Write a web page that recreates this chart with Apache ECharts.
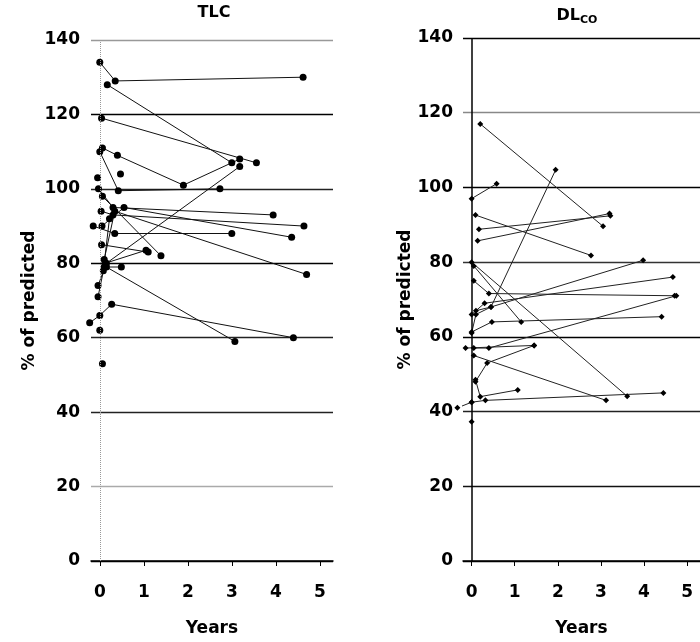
<!DOCTYPE html>
<html>
<head>
<meta charset="utf-8">
<script src="https://cdn.jsdelivr.net/npm/echarts@6/dist/echarts.min.js"></script>
<style>
html,body{margin:0;padding:0;background:#fff}
#chart{width:700px;height:642px}
</style>
</head>
<body>
<div id="chart"></div>
<script>
// TLC, one row per patient: years since baseline / % of predicted
var tlcYears = [
  [0, 0.35, 4.62], [0.17, 3.0], [0.04, 3.56], [0.06, 0.4, 1.9, 3.18],
  [0, 0.42, 2.73], [0.06, 1.39], [0.47], [-0.05],
  [-0.03, 0.3, 3.94], [0.03, 0.3, 4.64], [0.05, 0.55, 4.36], [0.1, 0.34, 4.7],
  [-0.15, 0.34, 3.0], [0.04, 1.1], [0.12, 1.05], [0.15, 3.07],
  [-0.23, 0, 0.27, 4.4], [0], [0.06], [-0.04, 0.15, 3.18],
  [-0.04, 0.1, 0.49], [0.08, 0.22]
];
var tlcPct = [
  [134, 129, 130], [128, 107], [119, 107], [111, 109, 101, 108],
  [110, 99.5, 100], [98, 82], [104], [103],
  [100, 95, 93], [94, 93, 90], [90, 95, 87], [81, 94, 77],
  [90, 88, 88], [85, 83], [80, 83.5], [79, 59],
  [64, 66, 69, 60], [62], [53], [74, 80, 106],
  [71, 79, 79], [78, 92]
];

// DLCO
var dlcoYears = [
  [0.2, 3.05], [0, 0.58], [0.09, 2.77], [0.17, 3.22], [0.14, 3.2],
  [0, 0.1, 0.45, 1.95], [0, 3.61], [0.05, 1.15], [0.05, 0.4, 4.71],
  [0, 0.3, 4.67], [0.1, 0.45, 3.98], [0, 0.47, 4.41], [0.05, 0.4, 4.75],
  [-0.14, 1.45], [0.09, 0.36, 1.45], [0.05, 3.12], [0.09, 0.2, 1.07],
  [0, 0.32, 4.45], [-0.33, 0], [0]
];
var dlcoPct = [
  [117, 89.6], [97, 101], [92.6, 81.8], [88.8, 92.4], [85.7, 93],
  [61, 66, 68, 104.7], [80, 44.1], [79, 64], [75, 71.6, 71],
  [66, 69, 76], [67, 68, 80.5], [61.3, 64, 65.4], [57, 57, 71],
  [57, 57.7], [48, 53, 57.7], [55, 43], [48.5, 44, 45.8],
  [42.5, 43, 45], [41, 42.5], [37.3]
];

var yearTicks = [0, 1, 2, 3, 4, 5];
var font = 'DejaVu Sans';

function buildSeries(years, pct, idx, symbol, size, color, zeroLine) {
  var out = [];
  for (var i = 0; i < years.length; i++) {
    var pts = [];
    for (var j = 0; j < years[i].length; j++) {
      pts.push([years[i][j], pct[i][j]]);
    }
    var s = {
      type: 'line',
      xAxisIndex: idx,
      yAxisIndex: idx,
      data: pts,
      symbol: symbol,
      symbolSize: size,
      showAllSymbol: true,
      clip: false,
      animation: false,
      silent: true,
      lineStyle: { color: color, width: 1 },
      itemStyle: { color: '#000' }
    };
    // vertical line at year 0 (the y axis in the original)
    if (i === 0) {
      s.markLine = {
        silent: true, symbol: 'none', label: { show: false },
        lineStyle: zeroLine, data: [{ xAxis: 0 }]
      };
    }
    out.push(s);
  }
  return out;
}

function xAxisCfg(idx) {
  return {
    type: 'value',
    gridIndex: idx,
    min: -0.2,
    max: 5.3,
    name: 'Years',
    nameLocation: 'middle',
    nameGap: 59,
    nameTextStyle: { fontFamily: font, fontWeight: 'bold', fontSize: 17, color: '#000' },
    axisLine: { onZero: false, lineStyle: { color: '#000', width: 1.5 } },
    axisTick: { show: true, length: 5, customValues: yearTicks, lineStyle: { color: '#000' } },
    axisLabel: {
      customValues: yearTicks, margin: 23,
      fontFamily: font, fontWeight: 'bold', fontSize: 17, color: '#000'
    },
    splitLine: { show: false }
  };
}

function yAxisCfg(idx, gap, margin, lineColors) {
  return {
    type: 'value',
    gridIndex: idx,
    min: 0,
    max: 140,
    interval: 20,
    name: '% of predicted',
    nameLocation: 'middle',
    nameGap: gap,
    nameTextStyle: { fontFamily: font, fontWeight: 'bold', fontSize: 17, color: '#000' },
    axisLine: { show: false, onZero: false },
    axisTick: { show: false },
    axisLabel: { margin: margin, fontFamily: font, fontWeight: 'bold', fontSize: 17, color: '#000' },
    splitLine: { show: true, lineStyle: { color: lineColors, width: 1.3 } }
  };
}

var chart = echarts.init(document.getElementById('chart'));

var option = {
  backgroundColor: '#fff',
  animation: false,
  grid: [
    { left: 91, top: 40, width: 242, height: 529 },
    { left: 463, top: 38, width: 242, height: 529 }
  ],
  xAxis: [xAxisCfg(0), xAxisCfg(1)],
  yAxis: [
    yAxisCfg(0, 53, 11, ['#000', '#aaa', '#222', '#222', '#000', '#222', '#000', '#999']),
    yAxisCfg(1, 48, 10, ['#000', '#111', '#222', '#000', '#333', '#000', '#888', '#000'])
  ],
  graphic: [
    {
      type: 'text', x: 214, y: 13,
      style: { text: 'TLC', align: 'center', verticalAlign: 'middle',
        fontFamily: font, fontWeight: 'bold', fontSize: 16, fill: '#000' }
    },
    {
      type: 'text', x: 577, y: 16,
      style: {
        text: '{a|DL}{b|CO}', align: 'center', verticalAlign: 'middle',
        rich: {
          a: { fontFamily: font, fontWeight: 'bold', fontSize: 16, fill: '#000' },
          b: { fontFamily: font, fontWeight: 'bold', fontSize: 11, fill: '#000', padding: [8, 0, 0, 0] }
        }
      }
    }
  ],
  series: buildSeries(tlcYears, tlcPct, 0, 'circle', 7, '#111',
      { color: '#999', width: 1, type: 'dotted' })
    .concat(buildSeries(dlcoYears, dlcoPct, 1, 'diamond', 6, '#222',
      { color: '#000', width: 1.5, type: 'solid' }))
};

chart.setOption(option);
</script>
</body>
</html>
